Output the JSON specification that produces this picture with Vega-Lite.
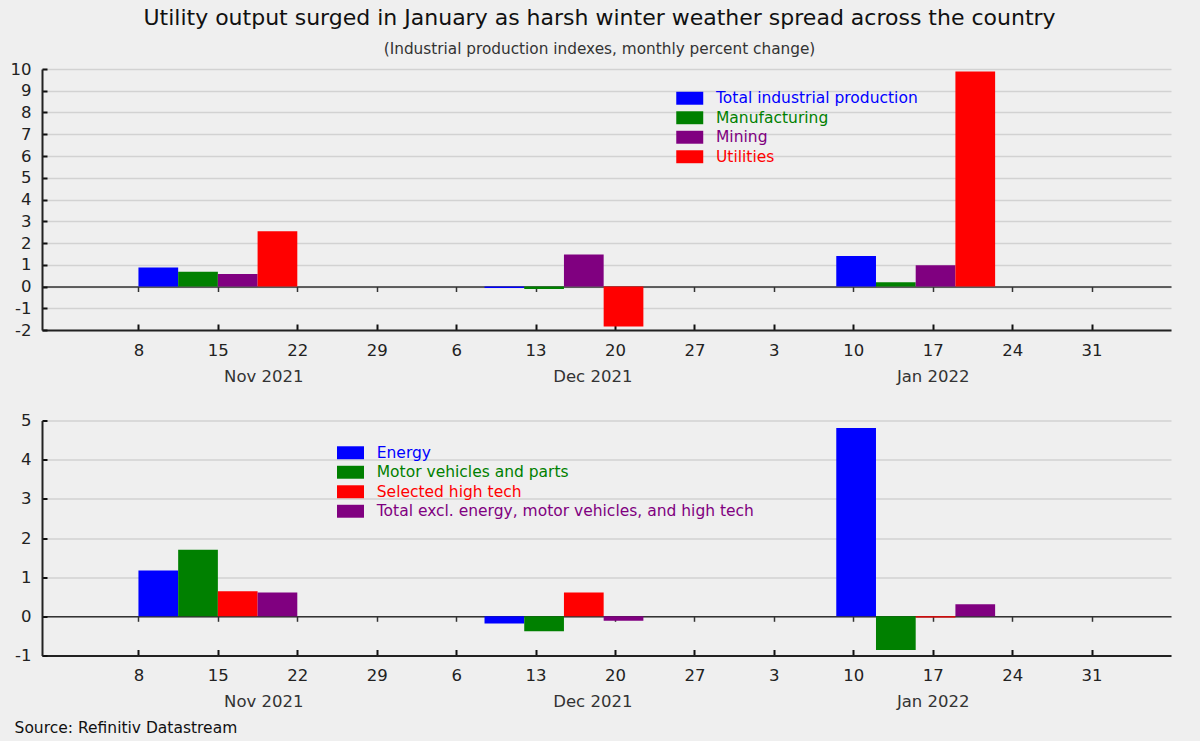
{
  "$schema": "https://vega.github.io/schema/vega-lite/v6.json",
  "background": "#efefef",
  "padding": {"left": 10, "top": 6, "right": 29, "bottom": 8},
  "title": {
    "text": "Utility output surged in January as harsh winter weather spread across the country",
    "subtitle": "(Industrial production indexes, monthly percent change)",
    "anchor": "middle",
    "dx": 9,
    "font": "DejaVu Sans",
    "fontSize": 22,
    "fontWeight": "normal",
    "color": "#111111",
    "subtitleFont": "DejaVu Sans",
    "subtitleFontSize": 15.3,
    "subtitleColor": "#333333",
    "subtitlePadding": 12,
    "offset": 3
  },
  "datasets": {
    "ip": [
      {"date": "2021-11-01", "series": "Total industrial production", "value": 0.87},
      {"date": "2021-11-01", "series": "Manufacturing", "value": 0.68},
      {"date": "2021-11-01", "series": "Mining", "value": 0.58},
      {"date": "2021-11-01", "series": "Utilities", "value": 2.54},
      {"date": "2021-12-01", "series": "Total industrial production", "value": -0.07},
      {"date": "2021-12-01", "series": "Manufacturing", "value": -0.12},
      {"date": "2021-12-01", "series": "Mining", "value": 1.47},
      {"date": "2021-12-01", "series": "Utilities", "value": -1.84},
      {"date": "2022-01-01", "series": "Total industrial production", "value": 1.4},
      {"date": "2022-01-01", "series": "Manufacturing", "value": 0.2},
      {"date": "2022-01-01", "series": "Mining", "value": 0.98},
      {"date": "2022-01-01", "series": "Utilities", "value": 9.88}
    ],
    "mkt": [
      {"date": "2021-11-01", "series": "Energy", "value": 1.17},
      {"date": "2021-11-01", "series": "Motor vehicles and parts", "value": 1.7},
      {"date": "2021-11-01", "series": "Selected high tech", "value": 0.64},
      {"date": "2021-11-01", "series": "Total excl. energy, motor vehicles, and high tech", "value": 0.61},
      {"date": "2021-12-01", "series": "Energy", "value": -0.18},
      {"date": "2021-12-01", "series": "Motor vehicles and parts", "value": -0.38},
      {"date": "2021-12-01", "series": "Selected high tech", "value": 0.61},
      {"date": "2021-12-01", "series": "Total excl. energy, motor vehicles, and high tech", "value": -0.11},
      {"date": "2022-01-01", "series": "Energy", "value": 4.81},
      {"date": "2022-01-01", "series": "Motor vehicles and parts", "value": -0.86},
      {"date": "2022-01-01", "series": "Selected high tech", "value": -0.03},
      {"date": "2022-01-01", "series": "Total excl. energy, motor vehicles, and high tech", "value": 0.31}
    ]
  },
  "vconcat": [
    {
      "width": 1129,
      "height": 261,
      "data": {"name": "ip"},
      "transform": [
        {"calculate": "indexof(['Total industrial production','Manufacturing','Mining','Utilities'], datum.series)", "as": "idx"},
        {"calculate": "(utc(utcyear(datum.date), utcmonth(datum.date) + 1, 1) - utc(utcyear(datum.date), utcmonth(datum.date), 1)) / 864e5", "as": "dim"},
        {"calculate": "time(datum.date) + (datum.dim / 2 - 8 + datum.idx * 3.5) * 864e5", "as": "x0"},
        {"calculate": "datum.x0 + 3.5 * 864e5", "as": "x1"}
      ],
      "layer": [
        {
          "mark": {"type": "bar", "strokeWidth": 0},
          "encoding": {
            "x": {
              "field": "x0", "type": "temporal",
              "scale": {"type": "utc", "domain": [{"year": 2021, "month": 10, "date": 30, "hours": 12, "utc": true}, {"year": 2022, "month": 2, "date": 7, "utc": true}]},
              "axis": {
                "orient": "bottom", "title": null, "grid": false,
                "values": [
                  {"year": 2021, "month": 11, "date": 8, "utc": true}, {"year": 2021, "month": 11, "date": 15, "utc": true},
                  {"year": 2021, "month": 11, "date": 22, "utc": true}, {"year": 2021, "month": 11, "date": 29, "utc": true},
                  {"year": 2021, "month": 12, "date": 6, "utc": true}, {"year": 2021, "month": 12, "date": 13, "utc": true},
                  {"year": 2021, "month": 12, "date": 20, "utc": true}, {"year": 2021, "month": 12, "date": 27, "utc": true},
                  {"year": 2022, "month": 1, "date": 3, "utc": true}, {"year": 2022, "month": 1, "date": 10, "utc": true},
                  {"year": 2022, "month": 1, "date": 17, "utc": true}, {"year": 2022, "month": 1, "date": 24, "utc": true},
                  {"year": 2022, "month": 1, "date": 31, "utc": true}
                ],
                "labelExpr": "utcFormat(datum.value, '%-d')",
                "tickSize": -6, "tickWidth": 2, "tickColor": "#111111",
                "domainColor": "#222222", "domainWidth": 2,
                "labelPadding": 18, "labelFontSize": 16.5, "labelColor": "#222222", "labelFont": "DejaVu Sans",
                "labelFlush": false, "labelOverlap": false
              }
            },
            "x2": {"field": "x1"},
            "y": {
              "field": "value", "type": "quantitative",
              "scale": {"domain": [-2, 10], "nice": false, "zero": false},
              "axis": {
                "title": null, "values": [-2, -1, 0, 1, 2, 3, 4, 5, 6, 7, 8, 9, 10],
                "labelExpr": "'' + datum.value", "labelOverlap": false,
                "grid": true, "gridColor": "#d2d2d2", "gridWidth": 1.5,
                "tickSize": -5, "tickWidth": 2, "tickColor": "#111111",
                "domainColor": "#222222", "domainWidth": 2,
                "labelPadding": 16, "labelFontSize": 16.5, "labelColor": "#222222", "labelFont": "DejaVu Sans"
              }
            },
            "y2": {"datum": 0},
            "color": {
              "field": "series", "type": "nominal",
              "scale": {"domain": ["Total industrial production", "Manufacturing", "Mining", "Utilities"], "range": ["#0000ff", "#008000", "#800080", "#ff0000"]},
              "legend": {
                "title": null, "orient": "none", "legendX": 640, "legendY": 21.5, "padding": 0,
                "symbolType": "M-2,-0.96H2V0.96H-2Z", "symbolSize": 182, "symbolStrokeWidth": 0, "symbolOpacity": 1,
                "labelOffset": 18.5, "labelFontSize": 15.5, "labelFont": "DejaVu Sans", "rowPadding": 2.5, "labelLimit": 600,
                "labelColor": {"expr": "datum.value == 'Manufacturing' ? '#008000' : datum.value == 'Mining' ? '#800080' : datum.value == 'Utilities' ? '#ff0000' : '#0000ff'"}
              }
            }
          }
        },
        {
          "mark": {"type": "bar", "opacity": 0},
          "encoding": {
            "x": {
              "field": "x0", "type": "temporal",
              "axis": {
                "orient": "bottom", "title": null, "grid": false, "ticks": false, "domain": false,
                "values": [{"year": 2021, "month": 11, "date": 19, "utc": true}, {"year": 2021, "month": 12, "date": 18, "utc": true}, {"year": 2022, "month": 1, "date": 17, "utc": true}],
                "labelExpr": "utcFormat(datum.value, '%b %Y')",
                "labelPadding": 38, "labelFontSize": 16.5, "labelColor": "#333333", "labelFont": "DejaVu Sans",
                "labelFlush": false, "labelOverlap": false
              }
            },
            "x2": {"field": "x1"},
            "y": {
              "field": "value", "type": "quantitative",
              "axis": {
                "title": null, "values": [-2, -1, 0, 1, 2, 3, 4, 5, 6, 7, 8, 9, 10],
                "labelExpr": "'' + datum.value", "labelOverlap": false,
                "grid": true, "gridColor": "#d2d2d2", "gridWidth": 1.5,
                "tickSize": -5, "tickWidth": 2, "tickColor": "#111111",
                "domainColor": "#222222", "domainWidth": 2,
                "labelPadding": 16, "labelFontSize": 16.5, "labelColor": "#222222", "labelFont": "DejaVu Sans"
              }
            },
            "y2": {"datum": 0}
          }
        },
        {
          "mark": {"type": "bar", "opacity": 0},
          "encoding": {
            "x": {
              "field": "x0", "type": "temporal",
              "axis": {
                "orient": "bottom", "offset": -43.5, "title": null, "grid": false, "labels": false,
                "values": [
                  {"year": 2021, "month": 11, "date": 8, "utc": true}, {"year": 2021, "month": 11, "date": 15, "utc": true},
                  {"year": 2021, "month": 11, "date": 22, "utc": true}, {"year": 2021, "month": 11, "date": 29, "utc": true},
                  {"year": 2021, "month": 12, "date": 6, "utc": true}, {"year": 2021, "month": 12, "date": 13, "utc": true},
                  {"year": 2021, "month": 12, "date": 20, "utc": true}, {"year": 2021, "month": 12, "date": 27, "utc": true},
                  {"year": 2022, "month": 1, "date": 3, "utc": true}, {"year": 2022, "month": 1, "date": 10, "utc": true},
                  {"year": 2022, "month": 1, "date": 17, "utc": true}, {"year": 2022, "month": 1, "date": 24, "utc": true},
                  {"year": 2022, "month": 1, "date": 31, "utc": true}
                ],
                "tickSize": 5, "tickWidth": 1.5, "tickColor": "#333333",
                "domainColor": "#333333", "domainWidth": 1.5
              }
            },
            "x2": {"field": "x1"},
            "y": {
              "field": "value", "type": "quantitative",
              "axis": {
                "title": null, "values": [-2, -1, 0, 1, 2, 3, 4, 5, 6, 7, 8, 9, 10],
                "labelExpr": "'' + datum.value", "labelOverlap": false,
                "grid": true, "gridColor": "#d2d2d2", "gridWidth": 1.5,
                "tickSize": -5, "tickWidth": 2, "tickColor": "#111111",
                "domainColor": "#222222", "domainWidth": 2,
                "labelPadding": 16, "labelFontSize": 16.5, "labelColor": "#222222", "labelFont": "DejaVu Sans"
              }
            },
            "y2": {"datum": 0}
          }
        }
      ],
      "resolve": {"axis": {"x": "independent"}}
    },
    {
      "width": 1129,
      "height": 235,
      "data": {"name": "mkt"},
      "title": {"text": "Source: Refinitiv Datastream", "orient": "bottom", "anchor": "start", "frame": "bounds", "font": "DejaVu Sans", "fontSize": 15.5, "fontWeight": "normal", "color": "#111111", "offset": 11},
      "transform": [
        {"calculate": "indexof(['Energy','Motor vehicles and parts','Selected high tech','Total excl. energy, motor vehicles, and high tech'], datum.series)", "as": "idx"},
        {"calculate": "(utc(utcyear(datum.date), utcmonth(datum.date) + 1, 1) - utc(utcyear(datum.date), utcmonth(datum.date), 1)) / 864e5", "as": "dim"},
        {"calculate": "time(datum.date) + (datum.dim / 2 - 8 + datum.idx * 3.5) * 864e5", "as": "x0"},
        {"calculate": "datum.x0 + 3.5 * 864e5", "as": "x1"}
      ],
      "layer": [
        {
          "mark": {"type": "bar", "strokeWidth": 0},
          "encoding": {
            "x": {
              "field": "x0", "type": "temporal",
              "scale": {"type": "utc", "domain": [{"year": 2021, "month": 10, "date": 30, "hours": 12, "utc": true}, {"year": 2022, "month": 2, "date": 7, "utc": true}]},
              "axis": {
                "orient": "bottom", "title": null, "grid": false,
                "values": [
                  {"year": 2021, "month": 11, "date": 8, "utc": true}, {"year": 2021, "month": 11, "date": 15, "utc": true},
                  {"year": 2021, "month": 11, "date": 22, "utc": true}, {"year": 2021, "month": 11, "date": 29, "utc": true},
                  {"year": 2021, "month": 12, "date": 6, "utc": true}, {"year": 2021, "month": 12, "date": 13, "utc": true},
                  {"year": 2021, "month": 12, "date": 20, "utc": true}, {"year": 2021, "month": 12, "date": 27, "utc": true},
                  {"year": 2022, "month": 1, "date": 3, "utc": true}, {"year": 2022, "month": 1, "date": 10, "utc": true},
                  {"year": 2022, "month": 1, "date": 17, "utc": true}, {"year": 2022, "month": 1, "date": 24, "utc": true},
                  {"year": 2022, "month": 1, "date": 31, "utc": true}
                ],
                "labelExpr": "utcFormat(datum.value, '%-d')",
                "tickSize": -6, "tickWidth": 2, "tickColor": "#111111",
                "domainColor": "#222222", "domainWidth": 2,
                "labelPadding": 18, "labelFontSize": 16.5, "labelColor": "#222222", "labelFont": "DejaVu Sans",
                "labelFlush": false, "labelOverlap": false
              }
            },
            "x2": {"field": "x1"},
            "y": {
              "field": "value", "type": "quantitative",
              "scale": {"domain": [-1, 5], "nice": false, "zero": false},
              "axis": {
                "title": null, "values": [-1, 0, 1, 2, 3, 4, 5],
                "labelExpr": "'' + datum.value", "labelOverlap": false,
                "grid": true, "gridColor": "#d2d2d2", "gridWidth": 1.5,
                "tickSize": -5, "tickWidth": 2, "tickColor": "#111111",
                "domainColor": "#222222", "domainWidth": 2,
                "labelPadding": 16, "labelFontSize": 16.5, "labelColor": "#222222", "labelFont": "DejaVu Sans"
              }
            },
            "y2": {"datum": 0},
            "color": {
              "field": "series", "type": "nominal",
              "scale": {"domain": ["Energy", "Motor vehicles and parts", "Selected high tech", "Total excl. energy, motor vehicles, and high tech"], "range": ["#0000ff", "#008000", "#ff0000", "#800080"]},
              "legend": {
                "title": null, "orient": "none", "legendX": 300.75, "legendY": 24.5, "padding": 0,
                "symbolType": "M-2,-0.96H2V0.96H-2Z", "symbolSize": 182, "symbolStrokeWidth": 0, "symbolOpacity": 1,
                "labelOffset": 18.5, "labelFontSize": 15.5, "labelFont": "DejaVu Sans", "rowPadding": 2.5, "labelLimit": 600,
                "labelColor": {"expr": "datum.value == 'Motor vehicles and parts' ? '#008000' : datum.value == 'Selected high tech' ? '#ff0000' : datum.value == 'Energy' ? '#0000ff' : '#800080'"}
              }
            }
          }
        },
        {
          "mark": {"type": "bar", "opacity": 0},
          "encoding": {
            "x": {
              "field": "x0", "type": "temporal",
              "axis": {
                "orient": "bottom", "title": null, "grid": false, "ticks": false, "domain": false,
                "values": [{"year": 2021, "month": 11, "date": 19, "utc": true}, {"year": 2021, "month": 12, "date": 18, "utc": true}, {"year": 2022, "month": 1, "date": 17, "utc": true}],
                "labelExpr": "utcFormat(datum.value, '%b %Y')",
                "labelPadding": 38, "labelFontSize": 16.5, "labelColor": "#333333", "labelFont": "DejaVu Sans",
                "labelFlush": false, "labelOverlap": false
              }
            },
            "x2": {"field": "x1"},
            "y": {
              "field": "value", "type": "quantitative",
              "axis": {
                "title": null, "values": [-1, 0, 1, 2, 3, 4, 5],
                "labelExpr": "'' + datum.value", "labelOverlap": false,
                "grid": true, "gridColor": "#d2d2d2", "gridWidth": 1.5,
                "tickSize": -5, "tickWidth": 2, "tickColor": "#111111",
                "domainColor": "#222222", "domainWidth": 2,
                "labelPadding": 16, "labelFontSize": 16.5, "labelColor": "#222222", "labelFont": "DejaVu Sans"
              }
            },
            "y2": {"datum": 0}
          }
        },
        {
          "mark": {"type": "bar", "opacity": 0},
          "encoding": {
            "x": {
              "field": "x0", "type": "temporal",
              "axis": {
                "orient": "bottom", "offset": -39.2, "title": null, "grid": false, "labels": false,
                "values": [
                  {"year": 2021, "month": 11, "date": 8, "utc": true}, {"year": 2021, "month": 11, "date": 15, "utc": true},
                  {"year": 2021, "month": 11, "date": 22, "utc": true}, {"year": 2021, "month": 11, "date": 29, "utc": true},
                  {"year": 2021, "month": 12, "date": 6, "utc": true}, {"year": 2021, "month": 12, "date": 13, "utc": true},
                  {"year": 2021, "month": 12, "date": 20, "utc": true}, {"year": 2021, "month": 12, "date": 27, "utc": true},
                  {"year": 2022, "month": 1, "date": 3, "utc": true}, {"year": 2022, "month": 1, "date": 10, "utc": true},
                  {"year": 2022, "month": 1, "date": 17, "utc": true}, {"year": 2022, "month": 1, "date": 24, "utc": true},
                  {"year": 2022, "month": 1, "date": 31, "utc": true}
                ],
                "tickSize": 5, "tickWidth": 1.5, "tickColor": "#333333",
                "domainColor": "#333333", "domainWidth": 1.5
              }
            },
            "x2": {"field": "x1"},
            "y": {
              "field": "value", "type": "quantitative",
              "axis": {
                "title": null, "values": [-1, 0, 1, 2, 3, 4, 5],
                "labelExpr": "'' + datum.value", "labelOverlap": false,
                "grid": true, "gridColor": "#d2d2d2", "gridWidth": 1.5,
                "tickSize": -5, "tickWidth": 2, "tickColor": "#111111",
                "domainColor": "#222222", "domainWidth": 2,
                "labelPadding": 16, "labelFontSize": 16.5, "labelColor": "#222222", "labelFont": "DejaVu Sans"
              }
            },
            "y2": {"datum": 0}
          }
        }
      ],
      "resolve": {"axis": {"x": "independent"}}
    }
  ],
  "spacing": 27.5,
  "resolve": {"scale": {"color": "independent"}, "legend": {"color": "independent"}},
  "config": {
    "view": {"stroke": null},
    "font": "DejaVu Sans"
  }
}
